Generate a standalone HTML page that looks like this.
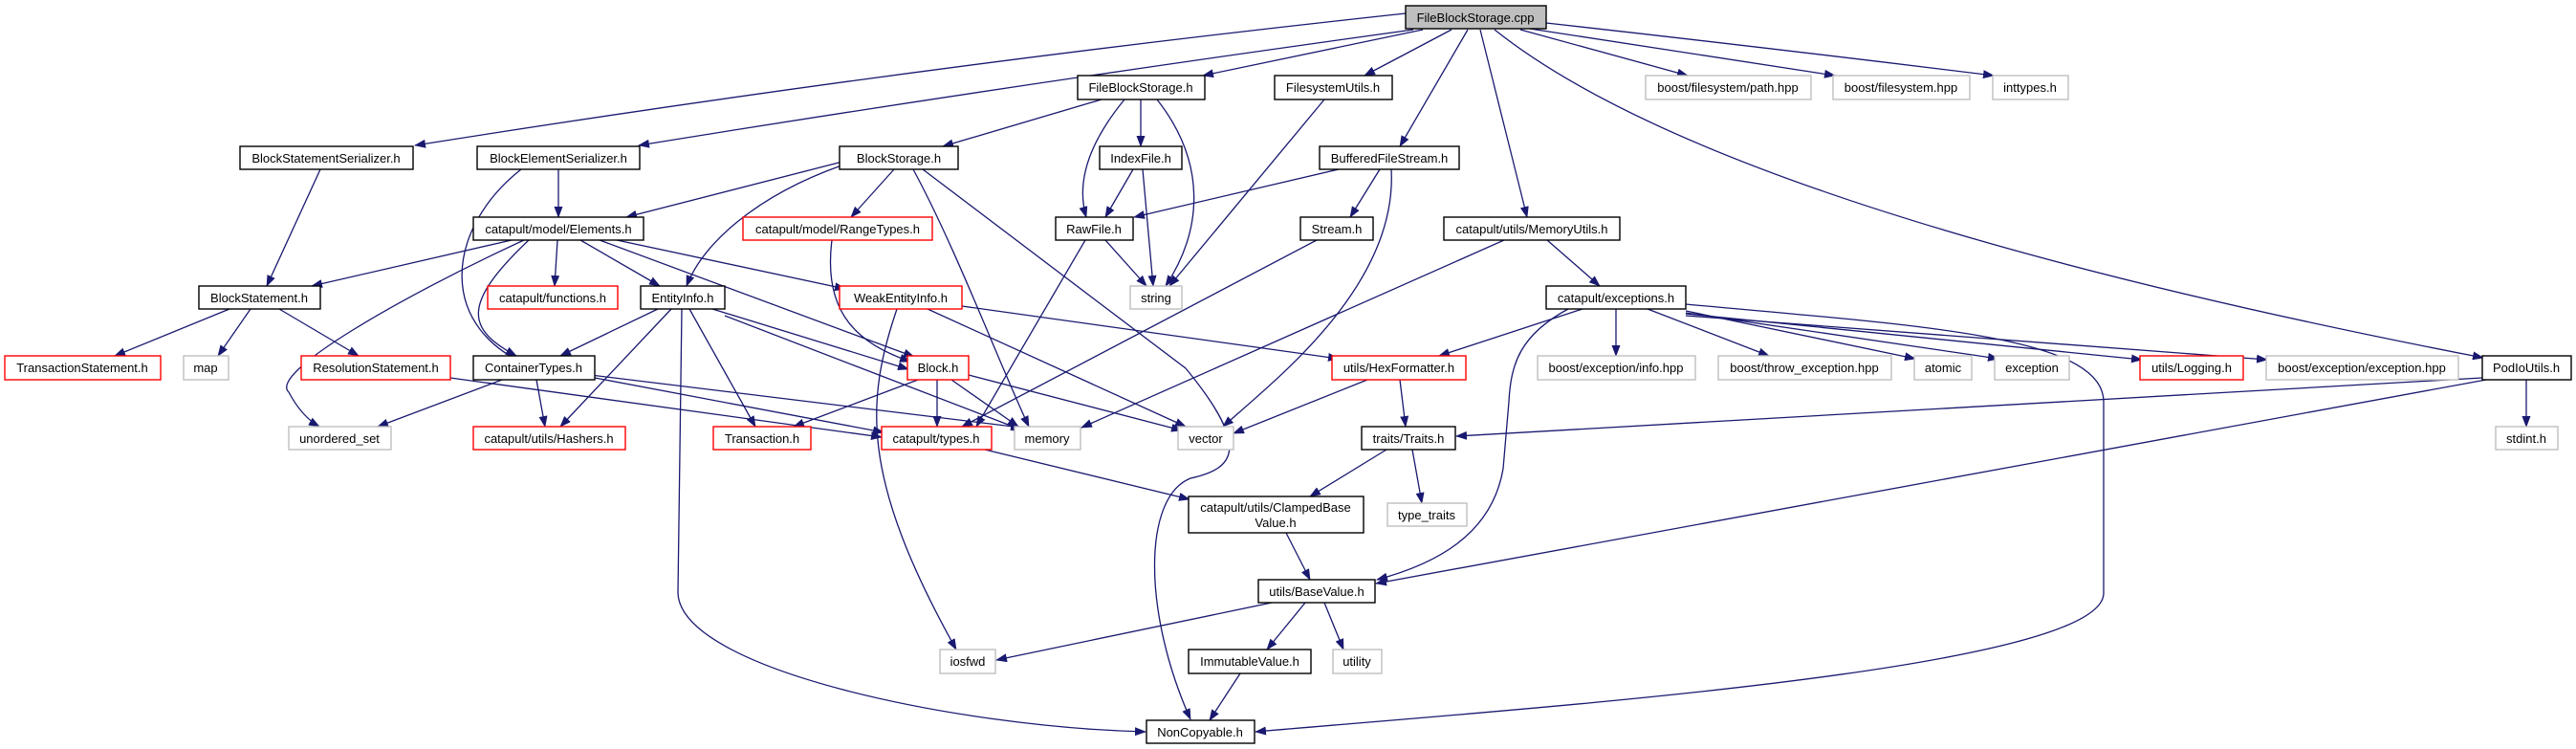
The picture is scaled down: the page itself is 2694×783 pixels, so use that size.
<!DOCTYPE html>
<html><head><meta charset="utf-8"><style>
html,body{margin:0;padding:0;background:#fff;}
svg{display:block;}
text{font-family:"Liberation Sans",Arial,sans-serif;font-size:13px;fill:#000;}
</style></head><body>
<svg width="2694" height="783" viewBox="0 0 2694 783" xmlns="http://www.w3.org/2000/svg">
<defs>
<marker id="a" markerWidth="12" markerHeight="9" refX="11" refY="4.5" orient="auto" markerUnits="userSpaceOnUse">
<path d="M0,0 L12,4.5 L0,9 z" fill="#191970"/>
</marker>
</defs>
<g fill="none" stroke="#191970" stroke-width="1.3" marker-end="url(#a)">
<path d="M1470,14 Q950,70 434,152"/>
<path d="M1478,31 Q1050,90 668,152"/>
<path d="M1488,31 L1258,79"/>
<path d="M1518,31 L1427,79"/>
<path d="M1535,31 L1464,153"/>
<path d="M1548,31 L1597,227"/>
<path d="M1590,31 L1765,79"/>
<path d="M1600,30 L1919,79"/>
<path d="M1617,24 Q1850,50 2085,79"/>
<path d="M1563,31 Q1800,220 2597,374"/>
<path d="M1152,104 L986,153"/>
<path d="M1193,104 L1193,153"/>
<path d="M1176,104 C1130,160 1128,200 1136,227"/>
<path d="M1210,104 C1262,170 1258,240 1219,299"/>
<path d="M1385,104 L1223,299"/>
<path d="M1185,177 L1156,227"/>
<path d="M1195,177 L1206,299"/>
<path d="M1400,177 L1186,227"/>
<path d="M1443,177 L1412,227"/>
<path d="M1455,177 C1462,300 1330,400 1279,446"/>
<path d="M1573,251 L1131,447"/>
<path d="M1618,251 L1673,299"/>
<path d="M1156,251 L1199,299"/>
<path d="M1135,251 L1021,446"/>
<path d="M1377,251 L1006,446"/>
<path d="M335,177 L279,299"/>
<path d="M584,177 L584,227"/>
<path d="M545,177 C465,240 455,345 560,385 L1068,447"/>
<path d="M885,168 L655,227"/>
<path d="M880,173 C790,205 735,255 718,299"/>
<path d="M935,177 L890,227"/>
<path d="M955,177 C1000,260 1045,380 1076,446"/>
<path d="M965,177 L1240,385 C1310,470 1290,490 1245,500 C1195,520 1195,640 1245,752"/>
<path d="M535,251 L326,299"/>
<path d="M548,251 C420,310 280,390 302,410 C310,425 320,438 334,446"/>
<path d="M553,251 C480,320 490,345 540,372"/>
<path d="M583,251 L580,299"/>
<path d="M607,251 L690,299"/>
<path d="M627,251 L956,373"/>
<path d="M645,251 L884,302"/>
<path d="M870,251 C860,330 900,360 952,378"/>
<path d="M240,323 L120,372"/>
<path d="M262,323 L228,372"/>
<path d="M292,323 L375,372"/>
<path d="M471,395 L922,457"/>
<path d="M688,323 L586,372"/>
<path d="M702,323 L586,446"/>
<path d="M713,323 L709,620 C712,700 1000,760 1198,765"/>
<path d="M721,323 L790,446"/>
<path d="M745,323 L950,386"/>
<path d="M758,330 L1070,450"/>
<path d="M525,397 L395,446"/>
<path d="M561,397 L570,446"/>
<path d="M622,395 L924,452"/>
<path d="M938,323 C905,420 900,500 1000,679"/>
<path d="M1006,320 L1400,375"/>
<path d="M970,323 L1240,446"/>
<path d="M960,397 L830,446"/>
<path d="M980,397 L980,446"/>
<path d="M995,397 L1065,446"/>
<path d="M1013,392 L1236,450"/>
<path d="M1464,397 L1470,446"/>
<path d="M1430,397 L1290,453"/>
<path d="M1655,323 L1505,372"/>
<path d="M1640,323 C1590,350 1580,380 1578,420 L1572,490 C1560,560 1500,590 1440,606"/>
<path d="M1690,323 L1690,372"/>
<path d="M1723,323 L1850,372"/>
<path d="M1763,325 L2003,375"/>
<path d="M1763,327 L2090,375"/>
<path d="M1763,328 L2240,376"/>
<path d="M1763,330 L2371,376"/>
<path d="M1763,318 C2000,340 2200,350 2200,420 L2200,620 C2200,700 1600,740 1313,765"/>
<path d="M2596,395 L1523,456"/>
<path d="M2600,397 L1439,610"/>
<path d="M2642,397 L2642,446"/>
<path d="M1030,470 L1244,522"/>
<path d="M1450,470 L1370,519"/>
<path d="M1477,470 L1487,526"/>
<path d="M1345,557 L1370,606"/>
<path d="M1330,630 L1042,690"/>
<path d="M1365,630 L1325,679"/>
<path d="M1385,630 L1405,679"/>
<path d="M1297,704 L1265,753"/>
</g>
<g stroke-width="1.4">
<g fill="#fff" stroke="#000">
<rect x="1470" y="6" width="147" height="24" fill="#bfbfbf"/>
<rect x="1127" y="79" width="133" height="25"/>
<rect x="1333" y="79" width="123" height="25"/>
<rect x="251" y="153" width="181" height="24"/>
<rect x="499" y="153" width="170" height="24"/>
<rect x="878" y="153" width="124" height="24"/>
<rect x="1150" y="153" width="86" height="24"/>
<rect x="1380" y="153" width="146" height="24"/>
<rect x="495" y="227" width="178" height="24"/>
<rect x="1104" y="227" width="81" height="24"/>
<rect x="1360" y="227" width="76" height="24"/>
<rect x="1510" y="227" width="184" height="24"/>
<rect x="208" y="299" width="127" height="24"/>
<rect x="670" y="299" width="88" height="24"/>
<rect x="1617" y="299" width="146" height="24"/>
<rect x="495" y="372" width="127" height="25"/>
<rect x="2596" y="372" width="93" height="25"/>
<rect x="1424" y="446" width="98" height="24"/>
<rect x="1243" y="519" width="183" height="38"/>
<rect x="1316" y="606" width="122" height="24"/>
<rect x="1243" y="679" width="128" height="25"/>
<rect x="1199" y="753" width="113" height="24"/>
</g>
<g fill="#fff" stroke="#ff0000">
<rect x="777" y="227" width="198" height="24"/>
<rect x="510" y="299" width="136" height="24"/>
<rect x="878" y="299" width="128" height="24"/>
<rect x="5" y="372" width="163" height="25"/>
<rect x="315" y="372" width="156" height="25"/>
<rect x="949" y="372" width="64" height="25"/>
<rect x="1393" y="372" width="140" height="25"/>
<rect x="2238" y="372" width="108" height="25"/>
<rect x="495" y="446" width="159" height="24"/>
<rect x="746" y="446" width="102" height="24"/>
<rect x="922" y="446" width="115" height="24"/>
</g>
<g fill="#fff" stroke="#bfbfbf">
<rect x="1721" y="79" width="173" height="25"/>
<rect x="1917" y="79" width="143" height="25"/>
<rect x="2084" y="79" width="79" height="25"/>
<rect x="1182" y="299" width="54" height="24"/>
<rect x="192" y="372" width="47" height="25"/>
<rect x="1608" y="372" width="165" height="25"/>
<rect x="1797" y="372" width="181" height="25"/>
<rect x="2002" y="372" width="60" height="25"/>
<rect x="2086" y="372" width="78" height="25"/>
<rect x="2370" y="372" width="201" height="25"/>
<rect x="302" y="446" width="107" height="24"/>
<rect x="1061" y="446" width="69" height="24"/>
<rect x="1232" y="446" width="58" height="24"/>
<rect x="2610" y="446" width="65" height="24"/>
<rect x="1451" y="526" width="83" height="24"/>
<rect x="983" y="679" width="58" height="25"/>
<rect x="1394" y="679" width="51" height="25"/>
</g>
</g>
<g text-anchor="middle">
<text x="1543" y="23">FileBlockStorage.cpp</text>
<text x="1193" y="96">FileBlockStorage.h</text>
<text x="1394" y="96">FilesystemUtils.h</text>
<text x="1807" y="96">boost/filesystem/path.hpp</text>
<text x="1988" y="96">boost/filesystem.hpp</text>
<text x="2123" y="96">inttypes.h</text>
<text x="341" y="170">BlockStatementSerializer.h</text>
<text x="584" y="170">BlockElementSerializer.h</text>
<text x="940" y="170">BlockStorage.h</text>
<text x="1193" y="170">IndexFile.h</text>
<text x="1453" y="170">BufferedFileStream.h</text>
<text x="584" y="244">catapult/model/Elements.h</text>
<text x="876" y="244">catapult/model/RangeTypes.h</text>
<text x="1144" y="244">RawFile.h</text>
<text x="1398" y="244">Stream.h</text>
<text x="1602" y="244">catapult/utils/MemoryUtils.h</text>
<text x="271" y="316">BlockStatement.h</text>
<text x="578" y="316">catapult/functions.h</text>
<text x="714" y="316">EntityInfo.h</text>
<text x="942" y="316">WeakEntityInfo.h</text>
<text x="1209" y="316">string</text>
<text x="1690" y="316">catapult/exceptions.h</text>
<text x="86" y="389">TransactionStatement.h</text>
<text x="215" y="389">map</text>
<text x="393" y="389">ResolutionStatement.h</text>
<text x="558" y="389">ContainerTypes.h</text>
<text x="981" y="389">Block.h</text>
<text x="1463" y="389">utils/HexFormatter.h</text>
<text x="1690" y="389">boost/exception/info.hpp</text>
<text x="1887" y="389">boost/throw_exception.hpp</text>
<text x="2032" y="389">atomic</text>
<text x="2125" y="389">exception</text>
<text x="2292" y="389">utils/Logging.h</text>
<text x="2470" y="389">boost/exception/exception.hpp</text>
<text x="2642" y="389">PodIoUtils.h</text>
<text x="355" y="463">unordered_set</text>
<text x="574" y="463">catapult/utils/Hashers.h</text>
<text x="797" y="463">Transaction.h</text>
<text x="979" y="463">catapult/types.h</text>
<text x="1095" y="463">memory</text>
<text x="1261" y="463">vector</text>
<text x="1473" y="463">traits/Traits.h</text>
<text x="2642" y="463">stdint.h</text>
<text x="1334" y="535">catapult/utils/ClampedBase</text>
<text x="1334" y="551">Value.h</text>
<text x="1492" y="543">type_traits</text>
<text x="1377" y="623">utils/BaseValue.h</text>
<text x="1012" y="696">iosfwd</text>
<text x="1307" y="696">ImmutableValue.h</text>
<text x="1419" y="696">utility</text>
<text x="1255" y="770">NonCopyable.h</text>
</g>
</svg>
</body></html>
